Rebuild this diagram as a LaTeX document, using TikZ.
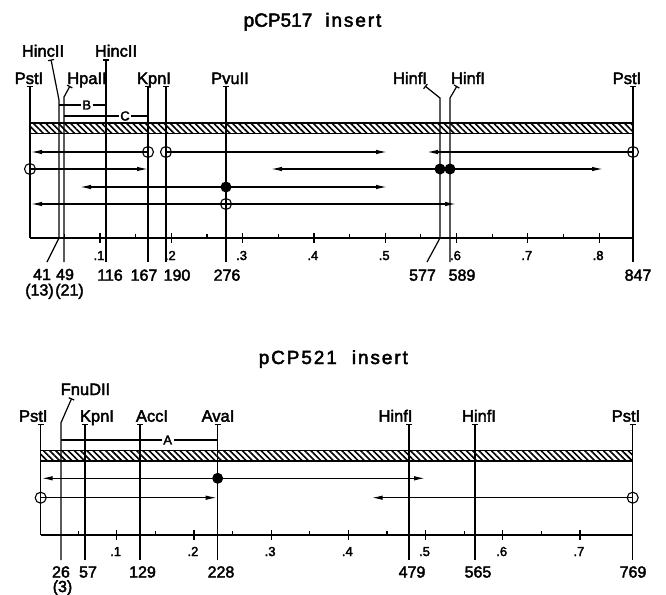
\documentclass[tikz,border=0pt]{standalone}
\usepackage{fontspec}
\setmainfont{Liberation Sans}[FakeBold=2.5]
\newfontfamily\ttlwide[LetterSpace=10,FakeBold=2.5]{Liberation Sans}
\usetikzlibrary{arrows.meta,positioning,patterns.meta}

\begin{document}
\begin{tikzpicture}[x=1pt,y=-1pt,>=Latex,
  ttl/.style={font=\fontsize{19}{22}\selectfont,inner sep=0pt,anchor=base},
  lbl/.style={font=\fontsize{16.5}{18}\selectfont,inner sep=0pt,anchor=base},
  num/.style={font=\fontsize{16}{18}\selectfont,inner sep=0pt,anchor=base},
  tck/.style={font=\fontsize{13}{15}\selectfont,inner sep=0pt,anchor=base},
  brk/.style={font=\fontsize{13}{15}\selectfont,fill=white,inner sep=1.5pt},
  site/.style={line width=1.2pt,arrows={Bar[width=6pt]-}},
  rule/.style={line width=1.2pt},
  seg/.style={line width=1.2pt,-{Latex[length=11pt,width=4.5pt]}},
  opn/.style={circle,draw,line width=1.1pt,minimum size=11pt,inner sep=0pt},
  dot/.style={circle,fill,minimum size=11pt,inner sep=0pt},
  bar/.style={draw,line width=1.2pt,pattern={Lines[angle=-45,distance=4.4pt,line width=1.6pt]}}
]
\useasboundingbox (0,0) rectangle (666,594);

% ---- pCP517 insert ----
\node[ttl] (title517) at (312.5,26.7) {pCP517\hspace{13pt}{\ttlwide insert}};

\node[lbl] (pstA)  at (29,84)   {PstI};
\node[lbl] (hincA) at (43,56.7) {HincII};
\node[lbl] (hpaA)  at (87,84)   {HpaII};
\node[lbl] (hincB) at (116,56.7) {HincII};
\node[lbl] (kpnA)  at (154,84)  {KpnI};
\node[lbl] (pvuA)  at (230,84)  {PvuII};
\node[lbl] (hinfA) at (410,84)  {HinfI};
\node[lbl] (hinfB) at (468,84)  {HinfI};
\node[lbl] (pstB)  at (627,84)  {PstI};

% straight sites
\foreach \nm/\x/\yt/\yb in {s0/30/86/238, s116/106/59.5/262, s167/148/86/262,
    s190/166/86/262, s276/226/86/262, s847/633/86/262} {
  \coordinate (\nm t) at (\x,\yt);
  \coordinate (\nm b) at (\x,\yb);
  \draw[site] (\nm t) -- (\nm b);
}
% bent sites
\coordinate (s41t) at (51,59.5);
\coordinate (s41k) at (59,100);
\coordinate (s41a) at (59,238);
\coordinate (s41b) at (47,262);
\draw[site] (s41t) -- (s41k) -- (s41a) -- (s41b);
\coordinate (s49t) at (70,86);
\coordinate (s49k) at (64,97);
\coordinate (s49b) at (64,262);
\draw[site] (s49t) -- (s49k) -- (s49b);
\coordinate (s577t) at (425,86);
\coordinate (s577k) at (440,98);
\coordinate (s577a) at (440,238);
\coordinate (s577b) at (427,262);
\draw[site] (s577t) -- (s577k) -- (s577a) -- (s577b);
\coordinate (s589t) at (457,86);
\coordinate (s589k) at (450,98);
\coordinate (s589b) at (450,262);
\draw[site] (s589t) -- (s589k) -- (s589b);

% fragments B and C
\node[brk] (fragB) at (86.7,105) {B};
\draw[rule] (s41k |- fragB) -- (fragB) -- (s116t |- fragB);
\node[brk] (fragC) at (125,116) {C};
\draw[rule] (s49k |- fragC) -- (fragC) -- (s167t |- fragC);

% insert and scale
\draw[bar] (30,123) rectangle (633,133.5);
\draw[line width=1.4pt] (s0b) -- (s847t |- s0b);
\foreach \k in {1,...,8} {
  \draw[rule] (28.7+71.3*\k,233) -- +(0,10);
  \node[tck] (tA\k) at (27.7+71.3*\k,260) {.\k};
}
\foreach \k in {0,...,7}
  \draw[rule] (64.35+71.3*\k,234) -- +(0,4);

% sequenced fragments
\node[opn] (cA1) at (148,152) {};
\node[opn] (cA2) at (166,152) {};
\node[opn] (cA3) at (633,152) {};
\node[opn] (cA4) at (30,169) {};
\node[dot] (dA1) at (440,169) {};
\node[dot] (dA2) at (450,169) {};
\node[dot] (dA3) at (226,187) {};
\node[opn] (cA5) at (226,204) {};
\coordinate (eA1) at (31,152);
\coordinate (eA2) at (387,152);
\coordinate (eA3) at (427,152);
\coordinate (eA4) at (148,169);
\coordinate (eA5) at (271,169);
\coordinate (eA6) at (603,169);
\coordinate (eA7) at (80,187);
\coordinate (eA8) at (387,187);
\coordinate (eA9) at (31,204);
\coordinate (eA10) at (456,204);
\draw[seg] (cA1.center) -- (eA1);
\draw[seg] (cA2.center) -- (eA2);
\draw[seg] (cA3.center) -- (eA3);
\draw[seg] (cA4.center) -- (eA4);
\draw[seg] (dA1.center) -- (eA5);
\draw[seg] (dA2.center) -- (eA6);
\draw[seg] (dA3.center) -- (eA7);
\draw[seg] (dA3.center) -- (eA8);
\draw[seg] (cA5.center) -- (eA9);
\draw[seg] (cA5.center) -- (eA10);

% positions
\node[num] (n41)  at (42,280)    {41};
\node[num] (n49)  at (65,280)    {49};
\node[num] (n13)  at (39.5,295.5) {(13)};
\node[num] (n21)  at (69.5,295.5) {(21)};
\node[num] (n116) at (110,280.7) {116};
\node[num] (n167) at (144,280.7) {167};
\node[num] (n190) at (177,280.7) {190};
\node[num] (n276) at (227,280.7) {276};
\node[num] (n577) at (422.5,280.7) {577};
\node[num] (n589) at (462,280.7) {589};
\node[num] (n847) at (638,280.7) {847};

% ---- pCP521 insert ----
\node[ttl] (title521) at (333.3,364) {{\ttlwide pCP521}\hspace{15pt}{\ttlwide insert}};

\node[lbl] (pstC)  at (33.3,421.7) {PstI};
\node[lbl] (fnuA)  at (85.5,395)   {FnuDII};
\node[lbl] (kpnB)  at (97,421.7)   {KpnI};
\node[lbl] (accA)  at (152,421.7)  {AccI};
\node[lbl] (avaA)  at (218,421.7)  {AvaI};
\node[lbl] (hinfC) at (395.5,421.7) {HinfI};
\node[lbl] (hinfD) at (479,421.7)  {HinfI};
\node[lbl] (pstD)  at (626,421.7)  {PstI};

\foreach \nm/\x/\yb in {r0/40.7/535, r57/85/560, r129/140/560, r228/217.7/560,
    r479/409/560, r565/475/560, r769/632.7/560} {
  \coordinate (\nm t) at (\x,424);
  \coordinate (\nm b) at (\x,\yb);
  \draw[site] (\nm t) -- (\nm b);
}
\coordinate (r26t) at (71.7,398.3);
\coordinate (r26k) at (61,422.7);
\coordinate (r26b) at (61,560);
\draw[site] (r26t) -- (r26k) -- (r26b);

% fragment A
\node[brk] (fragA) at (167.7,440) {A};
\draw[rule] (r26k |- fragA) -- (fragA) -- (r228t |- fragA);

\draw[bar] (40.7,450.7) rectangle (632.7,461);
\draw[line width=1.4pt] (r0b) -- (r769t |- r0b);
\foreach \k in {1,...,7} {
  \draw[rule] (39.5+77.2*\k,530) -- +(0,10);
  \node[tck] (tB\k) at (38.5+77.2*\k,556) {.\k};
}
\foreach \k in {0,...,6}
  \draw[rule] (78.1+77.2*\k,531) -- +(0,4);

\node[dot] (dB1) at (217.7,478.3) {};
\node[opn] (cB1) at (40.7,497.7) {};
\node[opn] (cB2) at (632.7,497.7) {};
\coordinate (eB1) at (41.7,478.3);
\coordinate (eB2) at (425,478.3);
\coordinate (eB3) at (216.7,497.7);
\coordinate (eB4) at (371.7,497.7);
\draw[seg] (dB1.center) -- (eB1);
\draw[seg] (dB1.center) -- (eB2);
\draw[seg] (cB1.center) -- (eB3);
\draw[seg] (cB2.center) -- (eB4);

\node[num] (n26)  at (61,577.5)  {26};
\node[num] (n57)  at (88,577.5)  {57};
\node[num] (n3)   at (62.5,592)  {(3)};
\node[num] (n129) at (142.5,577.5) {129};
\node[num] (n228) at (221,577.5) {228};
\node[num] (n479) at (412,577.5) {479};
\node[num] (n565) at (478,577.5) {565};
\node[num] (n769) at (633,577.5) {769};
\end{tikzpicture}
\end{document}
